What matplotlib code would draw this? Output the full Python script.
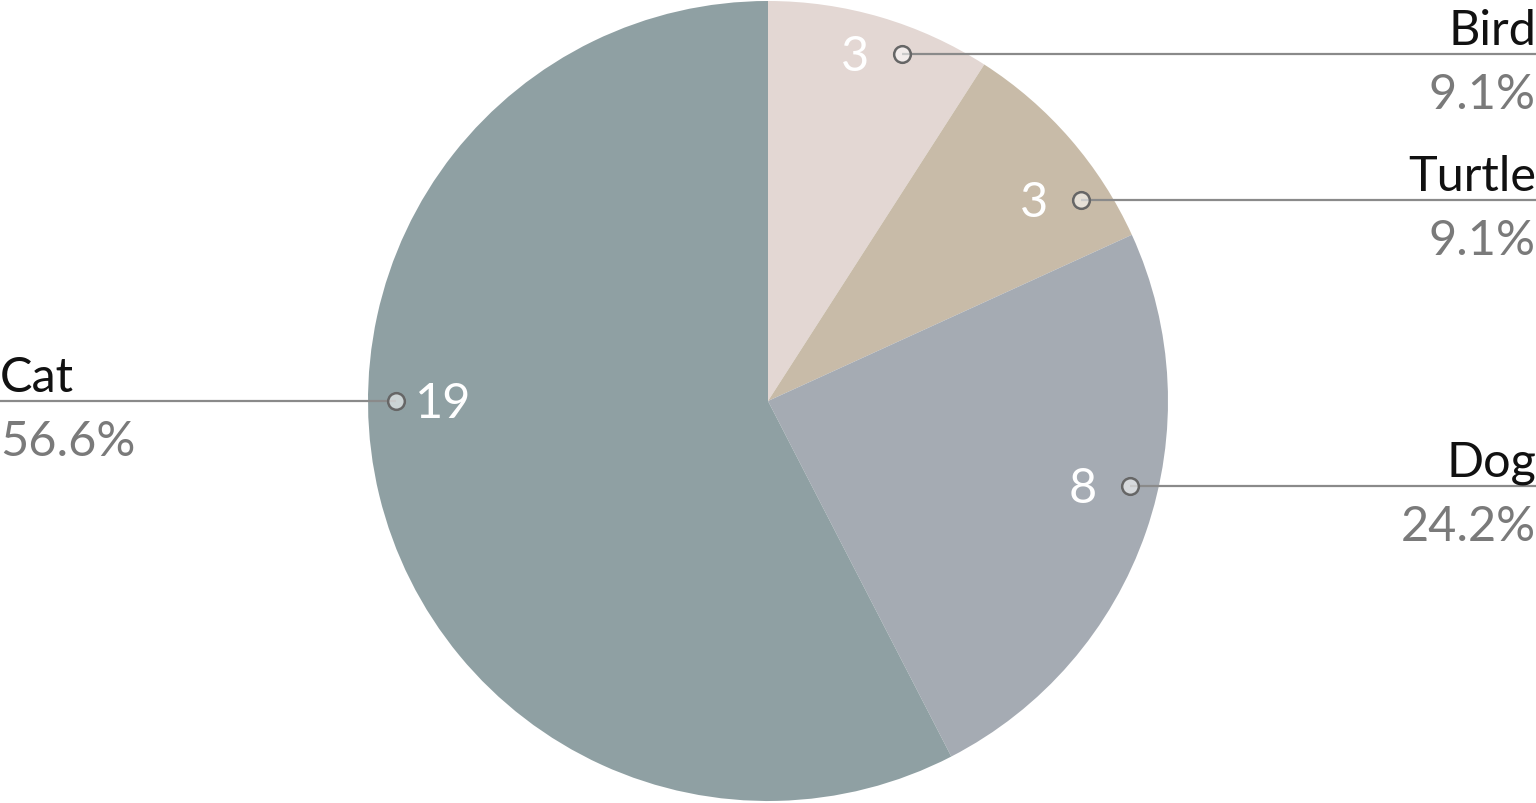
import numpy as np
import matplotlib
matplotlib.use("Agg")
import matplotlib.pyplot as plt

# data
pets = ["Bird", "Turtle", "Dog", "Cat"]
counts = [3, 3, 8, 19]
pct_labels = ["9.1%", "9.1%", "24.2%", "56.6%"]
colors = ["#e3d7d3", "#c8bba8", "#a5abb3", "#8fa0a3"]

# label layout (height of each leader line, in pie radii) and side
label_y = [0.8675, 0.5025, -0.2125, 0.0]
label_side = [1, 1, 1, -1]

plt.rcParams['font.family'] = ['Lato', 'DejaVu Sans']

W, H = 1536, 804
R = 400.0  # pie radius in px
fig = plt.figure(figsize=(W / 100, H / 100), dpi=100)
ax = fig.add_axes([0, 0, 1, 1])

ax.pie(counts, colors=colors, startangle=90, counterclock=False,
       radius=1.0, center=(0, 0), wedgeprops=dict(linewidth=0))

x_right = (W - 768) / R
x_left = -768 / R
r_mark = 0.93
fs = 35
for name, n, pct, y, side in zip(pets, counts, pct_labels, label_y, label_side):
    mx = side * np.sqrt(r_mark ** 2 - y ** 2)
    x_end = x_right if side > 0 else x_left
    ax.plot([mx, x_end], [y, y], color="#8a8a8a", lw=1.6, zorder=3,
            solid_capstyle='butt')
    ax.plot(mx, y, 'o', ms=12, mfc=(1, 1, 1, 0.55), mec="#666666",
            mew=1.8, zorder=4)
    # count inside slice
    ax.text(mx - side * 0.1175, y - 0.005, str(n), color="white", fontsize=fs,
            ha='center', va='center', zorder=5)
    ha = 'right' if side > 0 else 'left'
    ax.text(x_end, y + 0.025, name, color="#111111", fontsize=fs,
            ha=ha, va='baseline')
    ax.text(x_end, y - 0.045, pct, color="#7a7a7a", fontsize=fs,
            ha=ha, va='top')

ax.set_xlim(x_left, x_right)
ax.set_ylim(-402 / R, (H - 402) / R)
ax.set_aspect('equal')
ax.axis('off')

fig.savefig("out.png", dpi=100)
